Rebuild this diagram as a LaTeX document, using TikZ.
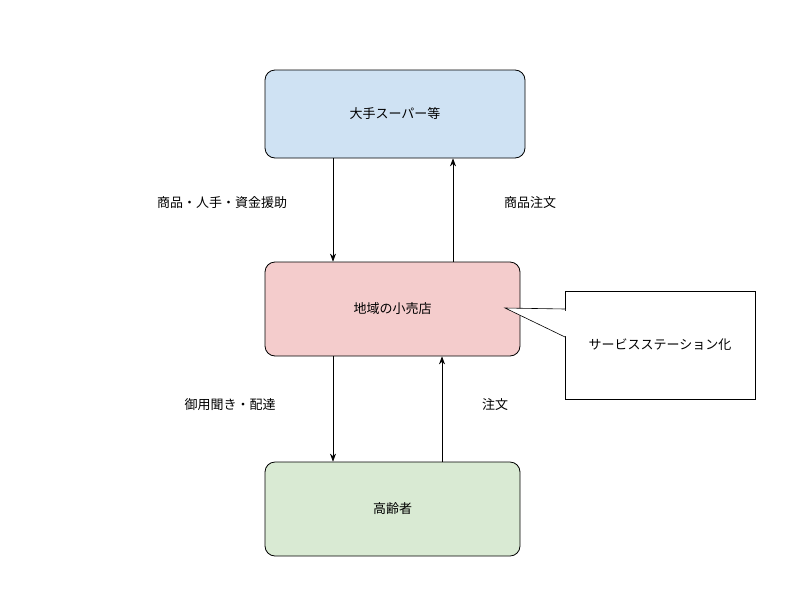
\documentclass[tikz,border=0pt]{standalone}
\usepackage{fontspec}
\setmainfont{Noto Sans CJK JP}
\usetikzlibrary{positioning,arrows.meta}
\definecolor{boxblue}{HTML}{CFE2F3}
\definecolor{boxred}{HTML}{F4CCCC}
\definecolor{boxgreen}{HTML}{D9EAD3}
\begin{document}
\begin{tikzpicture}[x=1pt,y=-1pt,thick,
  every node/.style={font=\fontsize{13}{15}\selectfont},
  box/.style={draw,rectangle,rounded corners=10pt,minimum width=255pt,minimum height=92pt},
  lbl/.style={inner sep=0pt},
  flow/.style={-{Stealth[length=8pt,width=6pt]},semithick}]
	\useasboundingbox (0,0) rectangle (800,600);
	\node[box,fill=boxblue,minimum width=260pt,minimum height=88pt] (Super) at (395,114) {大手スーパー等};
	\node[box,fill=boxred,minimum height=94pt] (Shop) at (392.5,309) {地域の小売店};
	\node[box,fill=boxgreen,minimum height=94pt] (Elder) at (392.5,509) {高齢者};
	\node[draw,rectangle,minimum width=190pt,minimum height=108pt] (Note) at (660,345) {サービスステーション化};
	\coordinate (Tip) at (505,308);
	\coordinate (NoteA) at (565,309);
	\coordinate (NoteB) at (565,337);
	\draw[fill=white,semithick] (NoteA) -- (Tip) -- (NoteB);
	\draw[white,line width=2pt] ([yshift=-1.5pt]NoteA) -- ([yshift=1.5pt]NoteB);
	\draw[flow] (Super.south -| 333,0) -- (Shop.north -| 333,0);
	\draw[flow] (Shop.north -| 453,0) -- (Super.south -| 453,0);
	\draw[flow] (Shop.south -| 333,0) -- (Elder.north -| 333,0);
	\draw[flow] (Elder.north -| 442,0) -- (Shop.south -| 442,0);
	\node[lbl] (SupplyLbl) at (222,203) {商品・人手・資金援助};
	\node[lbl] (OrderLbl) at (530,203) {商品注文};
	\node[lbl] (DeliverLbl) at (230,405) {御用聞き・配達};
	\node[lbl] (ElderLbl) at (495,405) {注文};
\end{tikzpicture}
\end{document}
